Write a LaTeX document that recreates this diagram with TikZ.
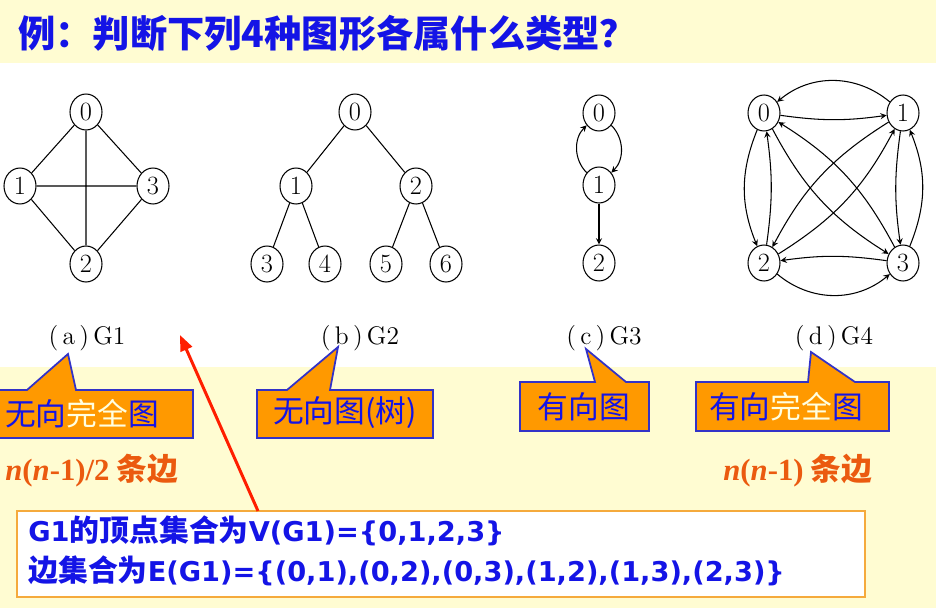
\documentclass[tikz,border=0pt]{standalone}
\usepackage{fontspec}
\newfontfamily\cjk{Noto Sans CJK SC}
\newfontfamily\tms{Liberation Serif}
\newfontfamily\vrd{DejaVu Sans}
\usepackage{tikz}
\usetikzlibrary{shapes.geometric}
\usetikzlibrary{arrows.meta}
\usepackage{xcolor}
\definecolor{bgyellow}{RGB}{255,252,210}
\definecolor{titleblue}{RGB}{20,20,230}
\definecolor{boxorange}{RGB}{255,153,0}
\definecolor{lineblue}{RGB}{50,50,200}
\definecolor{paleword}{RGB}{255,255,225}
\definecolor{countred}{RGB}{235,90,15}
\definecolor{pointred}{RGB}{255,30,0}
\definecolor{frameorange}{RGB}{245,170,60}

\begin{document}
\begin{tikzpicture}[x=0.02cm, y=-0.02cm,
        vtx/.style={ellipse, draw, line width=0.6pt, minimum width=0.64cm, minimum height=0.72cm, inner sep=0pt, font=\fontsize{15}{15}\selectfont},
        edge/.style={line width=0.6pt},
        arc/.style={->, >=stealth, line width=0.6pt},
        caption/.style={font=\fontsize{14.5}{14.5}\selectfont},
        callout/.style={fill=boxorange, draw=lineblue, line width=1pt},
        calltext/.style={font=\cjk\fontsize{17.5}{17.5}\selectfont, text=titleblue, inner sep=0pt},
        count/.style={font=\bfseries\fontsize{17.5}{17.5}\selectfont, text=countred, inner sep=0pt, anchor=west},
        setline/.style={font=\bfseries\fontsize{17}{17}\selectfont, text=titleblue, inner sep=0pt, anchor=west}]
    \useasboundingbox (0,0) rectangle (936,608);
    \fill[bgyellow] (0,0) rectangle (936,63);
    \fill[bgyellow] (0,367) rectangle (936,608);
    \node[anchor=west, inner sep=0pt, text=titleblue, font=\cjk\bfseries\fontsize{21.2}{21.2}\selectfont] (title) at (18,33) {例：判断下列4种图形各属什么类型？};

    % (a) G1
    \node[vtx] (a0) at (86,112) {0};
    \node[vtx] (a1) at (20,186) {1};
    \node[vtx] (a3) at (153,186) {3};
    \node[vtx] (a2) at (86,264) {2};
    \draw[edge] (a0) -- (a1) (a0) -- (a2) (a0) -- (a3) (a1) -- (a2) (a1) -- (a3) (a2) -- (a3);
    \node[caption] (capa) at (87,338) {(\,a\,)\,G1};

    % (b) G2
    \node[vtx] (b0) at (355,112) {0};
    \node[vtx] (b1) at (296,186) {1};
    \node[vtx] (b2) at (416,186) {2};
    \node[vtx] (b3) at (267,264) {3};
    \node[vtx] (b4) at (325,264) {4};
    \node[vtx] (b5) at (386,264) {5};
    \node[vtx] (b6) at (446,264) {6};
    \draw[edge] (b0) -- (b1) (b0) -- (b2) (b1) -- (b3) (b1) -- (b4) (b2) -- (b5) (b2) -- (b6);
    \node[caption] (capb) at (360,338) {(\,b\,)\,G2};

    % (c) G3
    \node[vtx] (c0) at (599,113) {0};
    \node[vtx] (c1) at (599,185) {1};
    \node[vtx] (c2) at (599,263) {2};
    \draw[arc] (c1) to[bend left=45] (c0);
    \draw[arc] (c0) to[bend left=45] (c1);
    \draw[arc] (c1) -- (c2);
    \node[caption] (capc) at (604,338) {(\,c\,)\,G3};

    % (d) G4
    \node[vtx] (d0) at (764,113) {0};
    \node[vtx] (d1) at (903,113) {1};
    \node[vtx] (d2) at (764,263) {2};
    \node[vtx] (d3) at (903,263) {3};
    \draw[arc] (d0) to[bend right=8] (d1);
    \draw[arc] (d1) to[bend right=40] (d0);
    \draw[arc] (d0) to[bend right=22] (d2);
    \draw[arc] (d2) to[bend right=8] (d0);
    \draw[arc] (d1) to[bend right=8] (d3);
    \draw[arc] (d3) to[bend right=22] (d1);
    \draw[arc] (d3) to[bend right=8] (d2);
    \draw[arc] (d2) to[bend right=40] (d3);
    \draw[arc] (d0) to[bend right=15] (d3);
    \draw[arc] (d3) to[bend right=15] (d0);
    \draw[arc] (d1) to[bend right=15] (d2);
    \draw[arc] (d2) to[bend right=15] (d1);
    \node[caption] (capd) at (834,338) {(\,d\,)\,G4};

    % callouts
    \draw[callout] (-2,390) -- (27,390) -- (68,354) -- (76,390) -- (193,390) -- (193,438) -- (-2,438) -- cycle;
    \node[calltext] (kinda) at (82,414) {无向\textcolor{paleword}{完全}图};
    \draw[callout] (257,390) -- (287,390) -- (338,347) -- (330,390) -- (433,390) -- (433,438) -- (257,438) -- cycle;
    \node[calltext] (kindb) at (345,413) {无向图(树)};
    \draw[callout] (520,382) -- (595,382) -- (586,349) -- (626,382) -- (649,382) -- (649,431) -- (520,431) -- cycle;
    \node[calltext] (kindc) at (584,407) {有向图};
    \draw[callout] (696,382) -- (808,382) -- (811,352) -- (855,382) -- (889,382) -- (889,431) -- (696,431) -- cycle;
    \node[calltext] (kindd) at (786,407) {有向\textcolor{paleword}{完全}图};

    % edge counts
    \node[count] (counta) at (5,471) {{\tms\itshape n}{\tms(}{\tms\itshape n}{\tms-1)/2}\hspace{4pt}{\cjk 条边}};
    \node[count] (countd) at (723,471) {{\tms\itshape n}{\tms(}{\tms\itshape n}{\tms-1)}\hspace{4pt}{\cjk 条边}};

    % vertex and edge sets
    \draw[fill=white, draw=frameorange, line width=1pt] (17,511) rectangle (865,597);
    \node[setline] (vset) at (28,531) {{\vrd\fontsize{15.5}{15.5}\selectfont G1}{\cjk 的顶点集合为}{\vrd\fontsize{15.5}{15.5}\selectfont V(G1)=\{0,1,2,3\}}};
    \node[setline] (eset) at (28,571) {{\cjk 边集合为}{\vrd\fontsize{15.5}{15.5}\selectfont E(G1)=\{(0,1),(0,2),(0,3),(1,2),(1,3),(2,3)\}}};
    \coordinate (arrfoot) at (258,511);
    \coordinate (arrtip) at (180,335);
    \draw[pointred, line width=1.7pt, -{Triangle[length=9pt, width=7pt]}] (arrfoot) -- (arrtip);
\end{tikzpicture}
\end{document}
